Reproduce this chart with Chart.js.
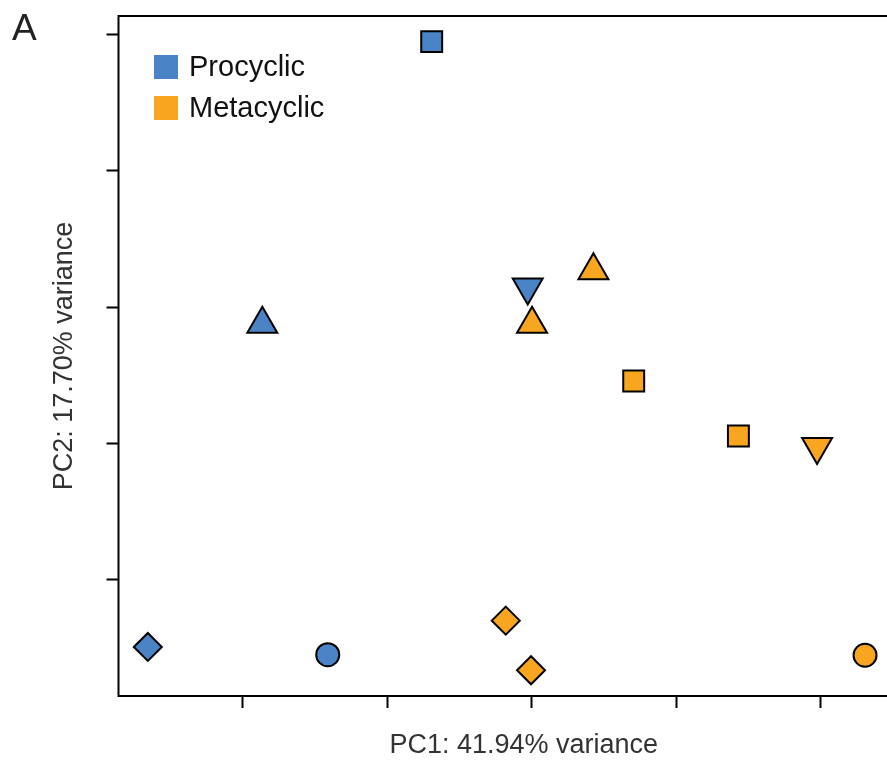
<!DOCTYPE html>
<html>
<head>
<meta charset="utf-8">
<script src="https://cdn.jsdelivr.net/npm/chart.js@4/dist/chart.umd.min.js"></script>
<style>
  html, body { margin: 0; padding: 0; background: #fff; overflow: hidden; }
  #wrap { width: 930px; height: 762px; position: relative; }
</style>
</head>
<body>
<div id="wrap"><canvas id="pcaPlot"></canvas></div>
<script>
// PCA scores per sample, one shape per replicate
const procyclicX = [-26.59, -14.13, -18.66, -6.93, -0.28];
const procyclicY = [-24.92, -25.49, -1.23, 19.49, 1.47];
const procyclicShape = ['diamond', 'circle', 'up', 'square', 'down'];

const metacyclicX = [0.02, 4.27, 7.06, 14.31, 19.76, -1.80, -0.05, 23.08];
const metacyclicY = [-1.23, 2.69, -5.41, -9.44, -10.23, -22.99, -26.63, -25.53];
const metacyclicShape = ['up', 'up', 'square', 'square', 'down', 'diamond', 'diamond', 'circle'];

const xTicks = [-20, -10, 0, 10, 20];
const yTicks = [-20, -10, 0, 10, 20];

const xTitle = 'PC1: 41.94% variance';
const yTitle = 'PC2: 17.70% variance';
const panelLabel = 'A';

const BLUE = '#4a84c6';
const ORANGE = '#f8a61f';
const FONT = '"Liberation Sans", Arial, Helvetica, sans-serif';

const shapeStyle = {
  circle:  { style: 'circle',   radius: 11.5, rotation: 0 },
  square:  { style: 'rect',     radius: 14.8, rotation: 0 },
  diamond: { style: 'rectRot',  radius: 14,   rotation: 0 },
  up:      { style: 'triangle', radius: 17.3, rotation: 0 },
  down:    { style: 'triangle', radius: 17.3, rotation: 180 }
};

function makeSet(label, xs, ys, shapes, color) {
  return {
    label: label,
    data: xs.map((x, i) => ({ x: x, y: ys[i] })),
    pointStyle: shapes.map(s => shapeStyle[s].style),
    pointRadius: shapes.map(s => shapeStyle[s].radius),
    pointHoverRadius: shapes.map(s => shapeStyle[s].radius),
    pointRotation: shapes.map(s => shapeStyle[s].rotation),
    backgroundColor: color,
    borderColor: '#000',
    borderWidth: 2,
    pointBorderWidth: 2,
    clip: false
  };
}

// box around the plot, legend and panel letter
const decorations = {
  id: 'decorations',
  afterDraw(chart) {
    const { ctx, chartArea: a } = chart;
    ctx.save();
    ctx.strokeStyle = '#000';
    ctx.lineWidth = 2;
    ctx.strokeRect(a.left, a.top, a.right - a.left, a.bottom - a.top);

    ctx.font = '37px ' + FONT;
    ctx.fillStyle = '#222';
    ctx.textBaseline = 'alphabetic';
    ctx.fillText(panelLabel, 12, 40);

    ctx.font = '29px ' + FONT;
    ctx.textBaseline = 'middle';
    chart.data.datasets.forEach((ds, i) => {
      const cy = 67 + i * 41;
      ctx.fillStyle = ds.backgroundColor;
      ctx.fillRect(154, cy - 12, 24, 24);
      ctx.fillStyle = '#111';
      ctx.fillText(ds.label, 189, cy + 1);
    });
    ctx.restore();
  }
};

const tickMarks = {
  display: true,
  drawOnChartArea: false,
  drawTicks: true,
  tickLength: 12,
  tickWidth: 2,
  tickColor: '#000',
  color: '#000'
};

new Chart(document.getElementById('pcaPlot'), {
  type: 'scatter',
  data: {
    datasets: [
      makeSet('Procyclic', procyclicX, procyclicY, procyclicShape, BLUE),
      makeSet('Metacyclic', metacyclicX, metacyclicY, metacyclicShape, ORANGE)
    ]
  },
  options: {
    responsive: true,
    maintainAspectRatio: false,
    animation: false,
    events: [],
    layout: { padding: { top: 16, right: 1, left: 0, bottom: 0 }, autoPadding: false },
    plugins: {
      legend: { display: false },
      tooltip: { enabled: false }
    },
    scales: {
      x: {
        type: 'linear',
        min: -28.62,
        max: 27.51,
        afterBuildTicks: s => { s.ticks = xTicks.map(v => ({ value: v })); },
        afterFit: s => { s.height = 66; },
        ticks: { display: false },
        grid: tickMarks,
        border: { display: false },
        title: {
          display: true,
          text: xTitle,
          color: '#333',
          font: { family: FONT, size: 27 },
          padding: { top: 0, bottom: 0 }
        }
      },
      y: {
        type: 'linear',
        min: -28.52,
        max: 21.37,
        afterBuildTicks: s => { s.ticks = yTicks.map(v => ({ value: v })); },
        afterFit: s => { s.width = 118.5; },
        ticks: { display: false },
        grid: tickMarks,
        border: { display: false },
        title: {
          display: true,
          text: yTitle,
          color: '#333',
          font: { family: FONT, size: 27 },
          padding: { top: 48, bottom: 0 }
        }
      }
    }
  },
  plugins: [decorations]
});
</script>
</body>
</html>
